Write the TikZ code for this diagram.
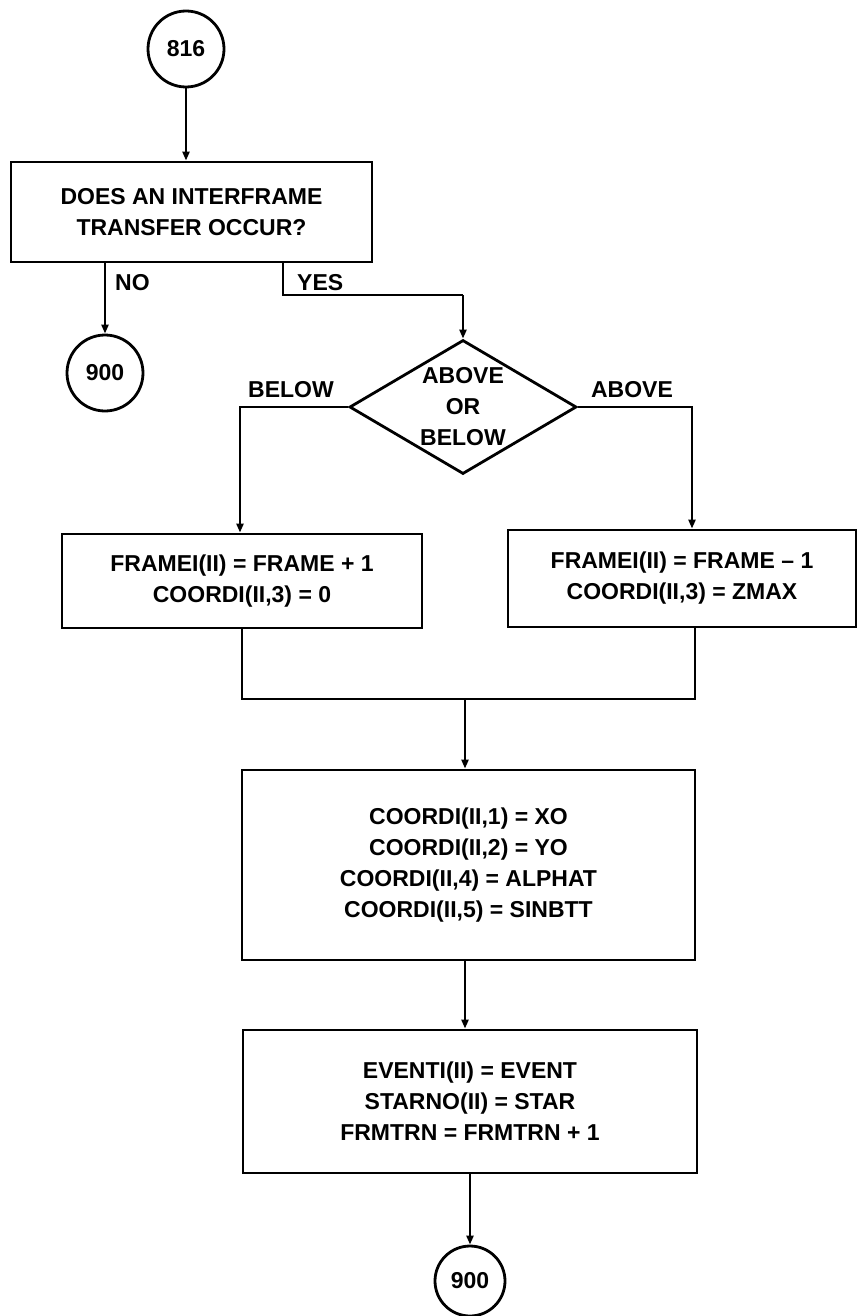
\documentclass[tikz,border=0pt]{standalone}
\usepackage{fontspec}
\setmainfont{Liberation Sans}
\usetikzlibrary{arrows.meta,shapes.geometric}
\begin{document}
\begin{tikzpicture}[x=1pt,y=-1pt,
  every node/.style={font=\fontsize{23}{31}\selectfont\bfseries},
  ln/.style={line width=2.8pt},
  arr/.style={line width=2.8pt,-{Triangle[length=9pt,width=7pt]}},
  proc/.style={draw,line width=2.8pt,align=center,inner sep=0pt},
  conn/.style={draw,circle,line width=2.8pt,inner sep=0pt},
  lbl/.style={inner sep=0pt}]
\useasboundingbox (0,0) rectangle (858,1316);

% nodes
\node[conn,minimum size=76pt] (c816) at (186,49) {816};
\node[proc,minimum width=361pt,minimum height=100pt] (box1) at (191.5,212)
  {DOES AN INTERFRAME\\TRANSFER OCCUR?};
\node[conn,minimum size=76pt] (c900a) at (105,373) {900};
\node[draw,diamond,line width=2.8pt,minimum width=227pt,minimum height=134pt,inner sep=0pt] (dia) at (463,407) {};
\node[lbl,align=center] (diatext) at (463,407) {ABOVE\\OR\\BELOW};
\node[proc,minimum width=360pt,minimum height=94pt] (box2) at (242,581)
  {FRAMEI(II) = FRAME + 1\\COORDI(II,3) = 0};
\node[proc,minimum width=348pt,minimum height=97pt] (box3) at (682,578.5)
  {FRAMEI(II) = FRAME -- 1\\COORDI(II,3) = ZMAX};
\node[proc,minimum width=453pt,minimum height=190pt] (box4) at (468.5,865)
  {COORDI(II,1) = XO\\COORDI(II,2) = YO\\COORDI(II,4) = ALPHAT\\COORDI(II,5) = SINBTT};
\node[proc,minimum width=454pt,minimum height=143pt] (box5) at (470,1101.5)
  {EVENTI(II) = EVENT\\STARNO(II) = STAR\\FRMTRN = FRMTRN + 1};
\node[conn,minimum size=70pt] (c900b) at (470,1281) {900};

% labels
\node[lbl,anchor=west] (lno) at (115,283) {NO};
\node[lbl,anchor=west] (lyes) at (297,283) {YES};
\node[lbl] (lbelow) at (291,390) {BELOW};
\node[lbl] (labove) at (632,390) {ABOVE};

% helper coordinates
\coordinate (yes1) at (283,295);
\coordinate (bel) at (240,407);
\coordinate (abv) at (692,407);
\coordinate (mL) at (242,699);
\coordinate (mR) at (695,699);
\coordinate (mC) at (465,699);

% connectors
\draw[arr] (c816) -- (c816 |- box1.north);
\draw[arr] (c900a.north |- box1.south) -- (c900a.north);
\draw[ln] (yes1 |- box1.south) -- (yes1) -- (yes1 -| dia.north);
\draw[arr] (yes1 -| dia.north) -- (dia.north);
\draw[arr] (dia.west) -- (bel) -- (bel |- box2.north);
\draw[arr] (dia.east) -- (abv) -- (abv |- box3.north);
\draw[ln] (mL |- box2.south) -- (mL) -- (mR) -- (mR |- box3.south);
\draw[arr] (mC) -- (mC |- box4.north);
\draw[arr] (mC |- box4.south) -- (mC |- box5.north);
\draw[arr] (c900b |- box5.south) -- (c900b.north);
\end{tikzpicture}
\end{document}
